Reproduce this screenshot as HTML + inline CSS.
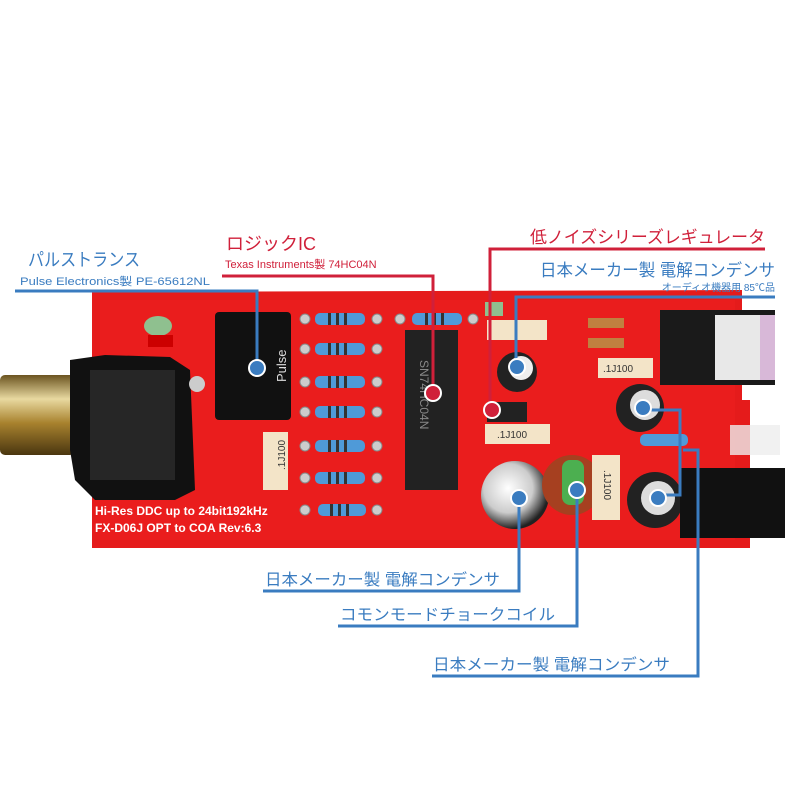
<!DOCTYPE html>
<html><head><meta charset="utf-8"><style>
body{margin:0;background:#fff}
svg{display:block}
text{font-family:"Liberation Sans","Noto Sans CJK JP",sans-serif}
</style></head><body>
<svg width="800" height="800" viewBox="0 0 800 800" xmlns="http://www.w3.org/2000/svg">
<defs>
<linearGradient id="gold" x1="0" y1="0" x2="0" y2="1"><stop offset="0" stop-color="#6b5420"/><stop offset=".3" stop-color="#e8d9a0"/><stop offset=".6" stop-color="#a8822e"/><stop offset="1" stop-color="#4a3610"/></linearGradient>
<radialGradient id="cap" cx=".4" cy=".4" r=".6"><stop offset="0" stop-color="#fff"/><stop offset=".6" stop-color="#ccc"/><stop offset="1" stop-color="#222"/></radialGradient>
</defs>
<!-- board -->
<polygon points="92,292 742,290 742,400 750,400 750,548 92,548" fill="#e51b1b"/>
<rect x="100" y="300" width="635" height="240" fill="#f02020" opacity=".5"/>
<!-- jack -->
<rect x="0" y="375" width="75" height="80" rx="5" fill="url(#gold)"/>
<polygon points="70,360 105,355 170,357 190,370 195,490 175,500 95,500 75,480 70,450" fill="#111"/>
<rect x="90" y="370" width="85" height="110" fill="#262626"/>
<circle cx="197" cy="384" r="8" fill="#ccc"/>
<!-- C6 -->
<ellipse cx="158" cy="326" rx="14" ry="10" fill="#8fc08f"/>
<rect x="148" y="335" width="25" height="12" fill="#c00"/>
<!-- transformer -->
<rect x="215" y="312" width="76" height="108" rx="4" fill="#111"/>
<text x="236" y="400" fill="#ddd" font-size="13" transform="rotate(-90 252 366)">Pulse</text>
<!-- C7 -->
<rect x="263" y="432" width="25" height="58" fill="#f3e4c8"/>
<text x="280" y="475" fill="#333" font-size="10" transform="rotate(-90 280 470)">.1J100</text>
<!-- resistor leads -->
<g fill="#ccc" stroke="#888">
<circle cx="305" cy="319" r="5"/><circle cx="305" cy="349" r="5"/><circle cx="305" cy="382" r="5"/><circle cx="305" cy="412" r="5"/><circle cx="305" cy="446" r="5"/><circle cx="305" cy="478" r="5"/><circle cx="305" cy="510" r="5"/>
<circle cx="377" cy="319" r="5"/><circle cx="377" cy="349" r="5"/><circle cx="377" cy="382" r="5"/><circle cx="377" cy="412" r="5"/><circle cx="377" cy="446" r="5"/><circle cx="377" cy="478" r="5"/><circle cx="377" cy="510" r="5"/>
<circle cx="400" cy="319" r="5"/><circle cx="473" cy="319" r="5"/>
</g>
<!-- resistors -->
<g fill="#4f9ad8">
<rect x="315" y="313" width="50" height="12" rx="5"/>
<rect x="315" y="343" width="50" height="12" rx="5"/>
<rect x="315" y="376" width="50" height="12" rx="5"/>
<rect x="315" y="406" width="50" height="12" rx="5"/>
<rect x="315" y="440" width="50" height="12" rx="5"/>
<rect x="315" y="472" width="50" height="12" rx="5"/>
<rect x="318" y="504" width="48" height="12" rx="5"/>
<rect x="412" y="313" width="50" height="12" rx="5"/>
<rect x="640" y="434" width="48" height="12" rx="5"/>
</g>
<g fill="#333"><rect x="328" y="313" width="3" height="12"/><rect x="336" y="313" width="3" height="12"/><rect x="344" y="313" width="3" height="12"/>
<rect x="328" y="343" width="3" height="12"/><rect x="336" y="343" width="3" height="12"/><rect x="344" y="343" width="3" height="12"/>
<rect x="328" y="376" width="3" height="12"/><rect x="336" y="376" width="3" height="12"/><rect x="344" y="376" width="3" height="12"/>
<rect x="328" y="406" width="3" height="12"/><rect x="336" y="406" width="3" height="12"/><rect x="344" y="406" width="3" height="12"/>
<rect x="328" y="440" width="3" height="12"/><rect x="336" y="440" width="3" height="12"/><rect x="344" y="440" width="3" height="12"/>
<rect x="328" y="472" width="3" height="12"/><rect x="336" y="472" width="3" height="12"/><rect x="344" y="472" width="3" height="12"/>
<rect x="330" y="504" width="3" height="12"/><rect x="338" y="504" width="3" height="12"/><rect x="346" y="504" width="3" height="12"/>
<rect x="425" y="313" width="3" height="12"/><rect x="433" y="313" width="3" height="12"/><rect x="441" y="313" width="3" height="12"/></g>
<!-- IC -->
<rect x="405" y="330" width="53" height="160" fill="#222"/>
<text x="420" y="360" fill="#888" font-size="12" transform="rotate(90 420 360)">SN74HC04N</text>
<!-- regulator & caps -->
<rect x="485" y="302" width="18" height="14" fill="#8fc08f"/>
<rect x="487" y="320" width="60" height="20" fill="#f3e4c8"/>
<circle cx="517" cy="372" r="20" fill="#222"/>
<circle cx="521" cy="368" r="12" fill="#eee"/>
<rect x="487" y="402" width="40" height="20" fill="#222"/>
<rect x="485" y="424" width="65" height="20" fill="#f3e4c8"/>
<text x="497" y="438" fill="#333" font-size="10">.1J100</text>
<circle cx="515" cy="495" r="34" fill="url(#cap)"/>
<circle cx="572" cy="485" r="30" fill="#a64020"/>
<rect x="562" y="460" width="22" height="45" rx="8" fill="#4caf50"/>
<rect x="592" y="455" width="28" height="65" fill="#f3e4c8"/>
<text x="604" y="470" fill="#333" font-size="10" transform="rotate(90 604 470)">.1J100</text>
<rect x="598" y="358" width="55" height="20" fill="#f3e4c8"/>
<text x="603" y="372" fill="#333" font-size="10">.1J100</text>
<rect x="588" y="318" width="36" height="10" fill="#c08040"/>
<rect x="588" y="338" width="36" height="10" fill="#c08040"/>
<circle cx="640" cy="408" r="24" fill="#222"/>
<circle cx="645" cy="405" r="15" fill="#ddd"/>
<circle cx="655" cy="500" r="28" fill="#222"/>
<circle cx="658" cy="498" r="17" fill="#ddd"/>
<!-- optical -->
<rect x="660" y="310" width="115" height="75" fill="#1a1a1a"/>
<rect x="715" y="315" width="45" height="65" fill="#e8e8e8"/>
<rect x="760" y="315" width="15" height="65" fill="#d8b8d8"/>
<rect x="730" y="425" width="50" height="30" fill="#eee" opacity=".8"/>
<!-- DC jack -->
<rect x="680" y="468" width="105" height="70" fill="#111"/>
<!-- board text -->
<text x="95" y="515" fill="#fff" font-size="12" font-weight="bold">Hi-Res DDC up to 24bit192kHz</text>
<text x="95" y="532" fill="#fff" font-size="12" font-weight="bold">FX-D06J OPT to COA Rev:6.3</text>

<!-- annotations -->
<g fill="none" stroke-width="3" stroke-linejoin="miter">
<polyline points="15,291 257,291 257,368" stroke="#3a7cc0"/>
<polyline points="222,276 433,276 433,393" stroke="#d0203a"/>
<polyline points="765,249 490,249 490,410" stroke="#d0203a"/>
<polyline points="775,297 516,297 516,367" stroke="#3a7cc0"/>
<polyline points="645,410 680,410 680,495 658,495" stroke="#3a7cc0"/>
<polyline points="683,450 698,450 698,676 432,676" stroke="#3a7cc0"/>
<polyline points="519,498 519,591 263,591" stroke="#3a7cc0"/>
<polyline points="577,490 577,626 338,626" stroke="#3a7cc0"/>
</g>
<g stroke="#fff" stroke-width="2">
<circle cx="257" cy="368" r="8" fill="#3a7cc0"/>
<circle cx="433" cy="393" r="8" fill="#d0203a"/>
<circle cx="492" cy="410" r="8" fill="#d0203a"/>
<circle cx="517" cy="367" r="8" fill="#3a7cc0"/>
<circle cx="643" cy="408" r="8" fill="#3a7cc0"/>
<circle cx="658" cy="498" r="8" fill="#3a7cc0"/>
<circle cx="519" cy="498" r="8" fill="#3a7cc0"/>
<circle cx="577" cy="490" r="8" fill="#3a7cc0"/>
</g>
<g fill="#3a7cc0">
<text x="28" y="266" font-size="18" textLength="112" lengthAdjust="spacingAndGlyphs">パルストランス</text>
<text x="20" y="285" font-size="11" textLength="190" lengthAdjust="spacingAndGlyphs">Pulse Electronics製 PE-65612NL</text>
<text x="540" y="276" font-size="17" textLength="235" lengthAdjust="spacingAndGlyphs">日本メーカー製 電解コンデンサ</text>
<text x="775" y="291" font-size="10" text-anchor="end">オーディオ機器用 85℃品</text>
<text x="265" y="585" font-size="16" textLength="235" lengthAdjust="spacingAndGlyphs">日本メーカー製 電解コンデンサ</text>
<text x="340" y="620" font-size="16" textLength="215" lengthAdjust="spacingAndGlyphs">コモンモードチョークコイル</text>
<text x="433" y="670" font-size="16" textLength="237" lengthAdjust="spacingAndGlyphs">日本メーカー製 電解コンデンサ</text>
</g>
<g fill="#d0203a">
<text x="226" y="250" font-size="18">ロジックIC</text>
<text x="225" y="268" font-size="11">Texas Instruments製 74HC04N</text>
<text x="530" y="243" font-size="17" textLength="235" lengthAdjust="spacingAndGlyphs">低ノイズシリーズレギュレータ</text>
</g>
</svg>
</body></html>
